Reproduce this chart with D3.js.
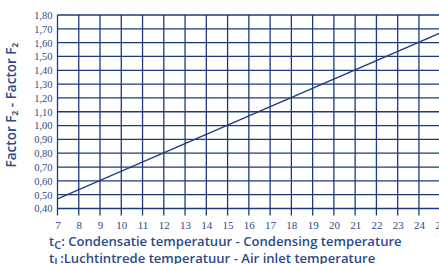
<!DOCTYPE html>
<html><head><meta charset="utf-8">
<script src="https://cdn.jsdelivr.net/npm/d3@7"></script>
<style>html,body{margin:0;padding:0;background:#fff;overflow:hidden}</style>
</head><body>
<svg id="c" width="439" height="264"></svg>
<script>
const xTicks = [7,8,9,10,11,12,13,14,15,16,17,18,19,20,21,22,23,24,25];
const yTicks = [0.4,0.5,0.6,0.7,0.8,0.9,1.0,1.1,1.2,1.3,1.4,1.5,1.6,1.7,1.8];
const lineX = [7, 25];
const lineY = [0.47, 1.67];
const yTitle = "Factor F₂ - Factor F₂";
const xTitle1 = ["t", "C", ": Condensatie temperatuur - Condensing temperature"];
const xTitle2 = ["t", "L", ":Luchtintrede temperatuur - Air inlet temperature"];

const svg = d3.select("#c");
const x = d3.scaleLinear().domain([7,25]).range([57.5, 440.2]);
const y = d3.scaleLinear().domain([0.4,1.8]).range([208.5, 15]);
const gridCol = "#1d3b7c", textCol = "#2c4a8a";

const g = svg.append("g");
g.selectAll("line.h").data(yTicks).join("line")
  .attr("x1", x(7)).attr("x2", 439)
  .attr("y1", d=>y(d)).attr("y2", d=>y(d))
  .attr("stroke", gridCol).attr("stroke-width", 1.3);
g.selectAll("line.v").data(xTicks).join("line")
  .attr("x1", d=>x(d)).attr("x2", d=>x(d))
  .attr("y1", y(1.8)).attr("y2", y(0.4)+7)
  .attr("stroke", gridCol).attr("stroke-width", 1.3);

const xa = svg.append("g").attr("transform", `translate(0,${y(0.4)})`)
  .call(d3.axisBottom(x).tickValues(xTicks).tickFormat(d3.format("d")).tickSize(0).tickPadding(13));
xa.select(".domain").remove();
xa.selectAll("text").attr("fill", textCol).attr("font-family", "Liberation Serif, serif").attr("font-size", 11);

const ya = svg.append("g").attr("transform", `translate(${x(7)},0)`)
  .call(d3.axisLeft(y).tickValues(yTicks).tickFormat(d=>d3.format(".2f")(d).replace(".", ",")).tickSize(0).tickPadding(5));
ya.select(".domain").remove();
ya.selectAll("text").attr("fill", textCol).attr("font-family", "Liberation Serif, serif").attr("font-size", 10.5);

const ln = d3.line().x(d=>x(d[0])).y(d=>y(d[1]));
svg.append("path").datum(lineX.map((v,i)=>[v,lineY[i]]))
  .attr("d", ln).attr("fill","none").attr("stroke", gridCol).attr("stroke-width", 1.2);

svg.append("text").attr("transform", "translate(16,105) rotate(-90)")
  .attr("text-anchor","middle").attr("fill", textCol)
  .attr("font-family","Open Sans, sans-serif").attr("font-weight",600).attr("font-size",13.5)
  .text(yTitle);

function sub(yy, parts){
  const tx = svg.append("text").attr("x", 49).attr("y", yy).attr("fill", textCol)
    .attr("font-family","Open Sans, sans-serif").attr("font-weight",600).attr("font-size",13.1);
  tx.append("tspan").text(parts[0]);
  tx.append("tspan").attr("dy", 3).attr("font-size", 11).text(parts[1]);
  tx.append("tspan").attr("dy", -3).text(parts[2]);
  return tx;
}
sub(246, xTitle1);
sub(263, xTitle2);
</script>
</body></html>
